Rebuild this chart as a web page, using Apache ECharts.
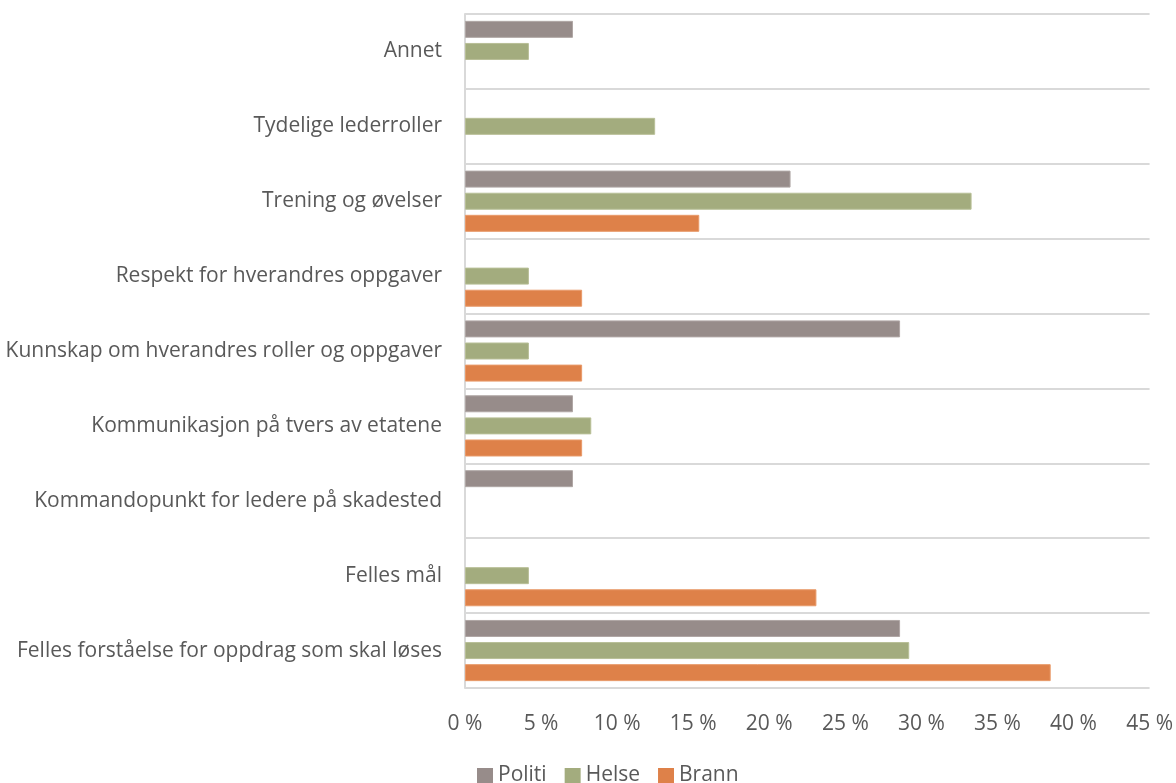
<!DOCTYPE html>
<html>
<head>
<meta charset="utf-8">
<script src="https://cdn.jsdelivr.net/npm/echarts@6/dist/echarts.min.js"></script>
<style>
  html, body { margin: 0; padding: 0; background: #ffffff; }
  #chart { width: 1176px; height: 783px; }
</style>
</head>
<body>
<div id="chart"></div>
<script>
// Categories, listed from top to bottom
const categories = [
  'Annet',
  'Tydelige lederroller',
  'Trening og øvelser',
  'Respekt for hverandres oppgaver',
  'Kunnskap om hverandres roller og oppgaver',
  'Kommunikasjon på tvers av etatene',
  'Kommandopunkt for ledere på skadested',
  'Felles mål',
  'Felles forståelse for oppdrag som skal løses'
];

// Share of respondents (%) per service
const politi = [7.1, null, 21.4, null, 28.6, 7.1, 7.1, null, 28.6];
const helse  = [4.2, 12.5, 33.3, 4.2, 4.2, 8.3, null, 4.2, 29.2];
const brann  = [null, null, 15.4, 7.7, 7.7, 7.7, null, 23.1, 38.5];

const xTicks = { min: 0, max: 45, interval: 5 };

const fontFamily = '"Open Sans", "Noto Sans", sans-serif';
const textColor = '#595959';
const fontSize = 21;

const chart = echarts.init(document.getElementById('chart'));

function barSeries(name, data, color, border) {
  return {
    name: name,
    type: 'bar',
    data: data,
    barWidth: 17,
    barGap: '30%',
    itemStyle: { color: color, borderColor: border, borderWidth: 1 }
  };
}

chart.setOption({
  animation: false,
  grid: { left: 465, right: 26, top: 14, bottom: 95, containLabel: false },
  xAxis: {
    type: 'value',
    min: xTicks.min,
    max: xTicks.max,
    interval: xTicks.interval,
    axisLine: { show: false },
    axisTick: { show: false },
    splitLine: { show: false },
    axisLabel: {
      formatter: '{value} %',
      color: textColor,
      fontFamily: fontFamily,
      fontSize: fontSize,
      margin: 26
    }
  },
  yAxis: {
    type: 'category',
    data: categories,
    inverse: true,
    axisLine: { show: true, lineStyle: { color: '#d9d9d9', width: 2 } },
    axisTick: { show: false },
    splitLine: { show: true, lineStyle: { color: '#d9d9d9', width: 2 } },
    axisLabel: {
      color: textColor,
      fontFamily: fontFamily,
      fontSize: fontSize,
      margin: 23
    }
  },
  legend: {
    data: ['Politi', 'Helse', 'Brann'],
    top: 760,
    left: 472,
    itemWidth: 16,
    itemHeight: 15,
    itemGap: 18,
    icon: 'rect',
    itemStyle: { borderWidth: 0 },
    textStyle: { color: textColor, fontFamily: fontFamily, fontSize: fontSize }
  },
  series: [
    barSeries('Politi', politi, '#978c8a', '#b0a7a5'),
    barSeries('Helse', helse, '#a3ac7e', '#b8bf97'),
    barSeries('Brann', brann, '#de8149', '#e89a6a')
  ]
});
</script>
</body>
</html>
